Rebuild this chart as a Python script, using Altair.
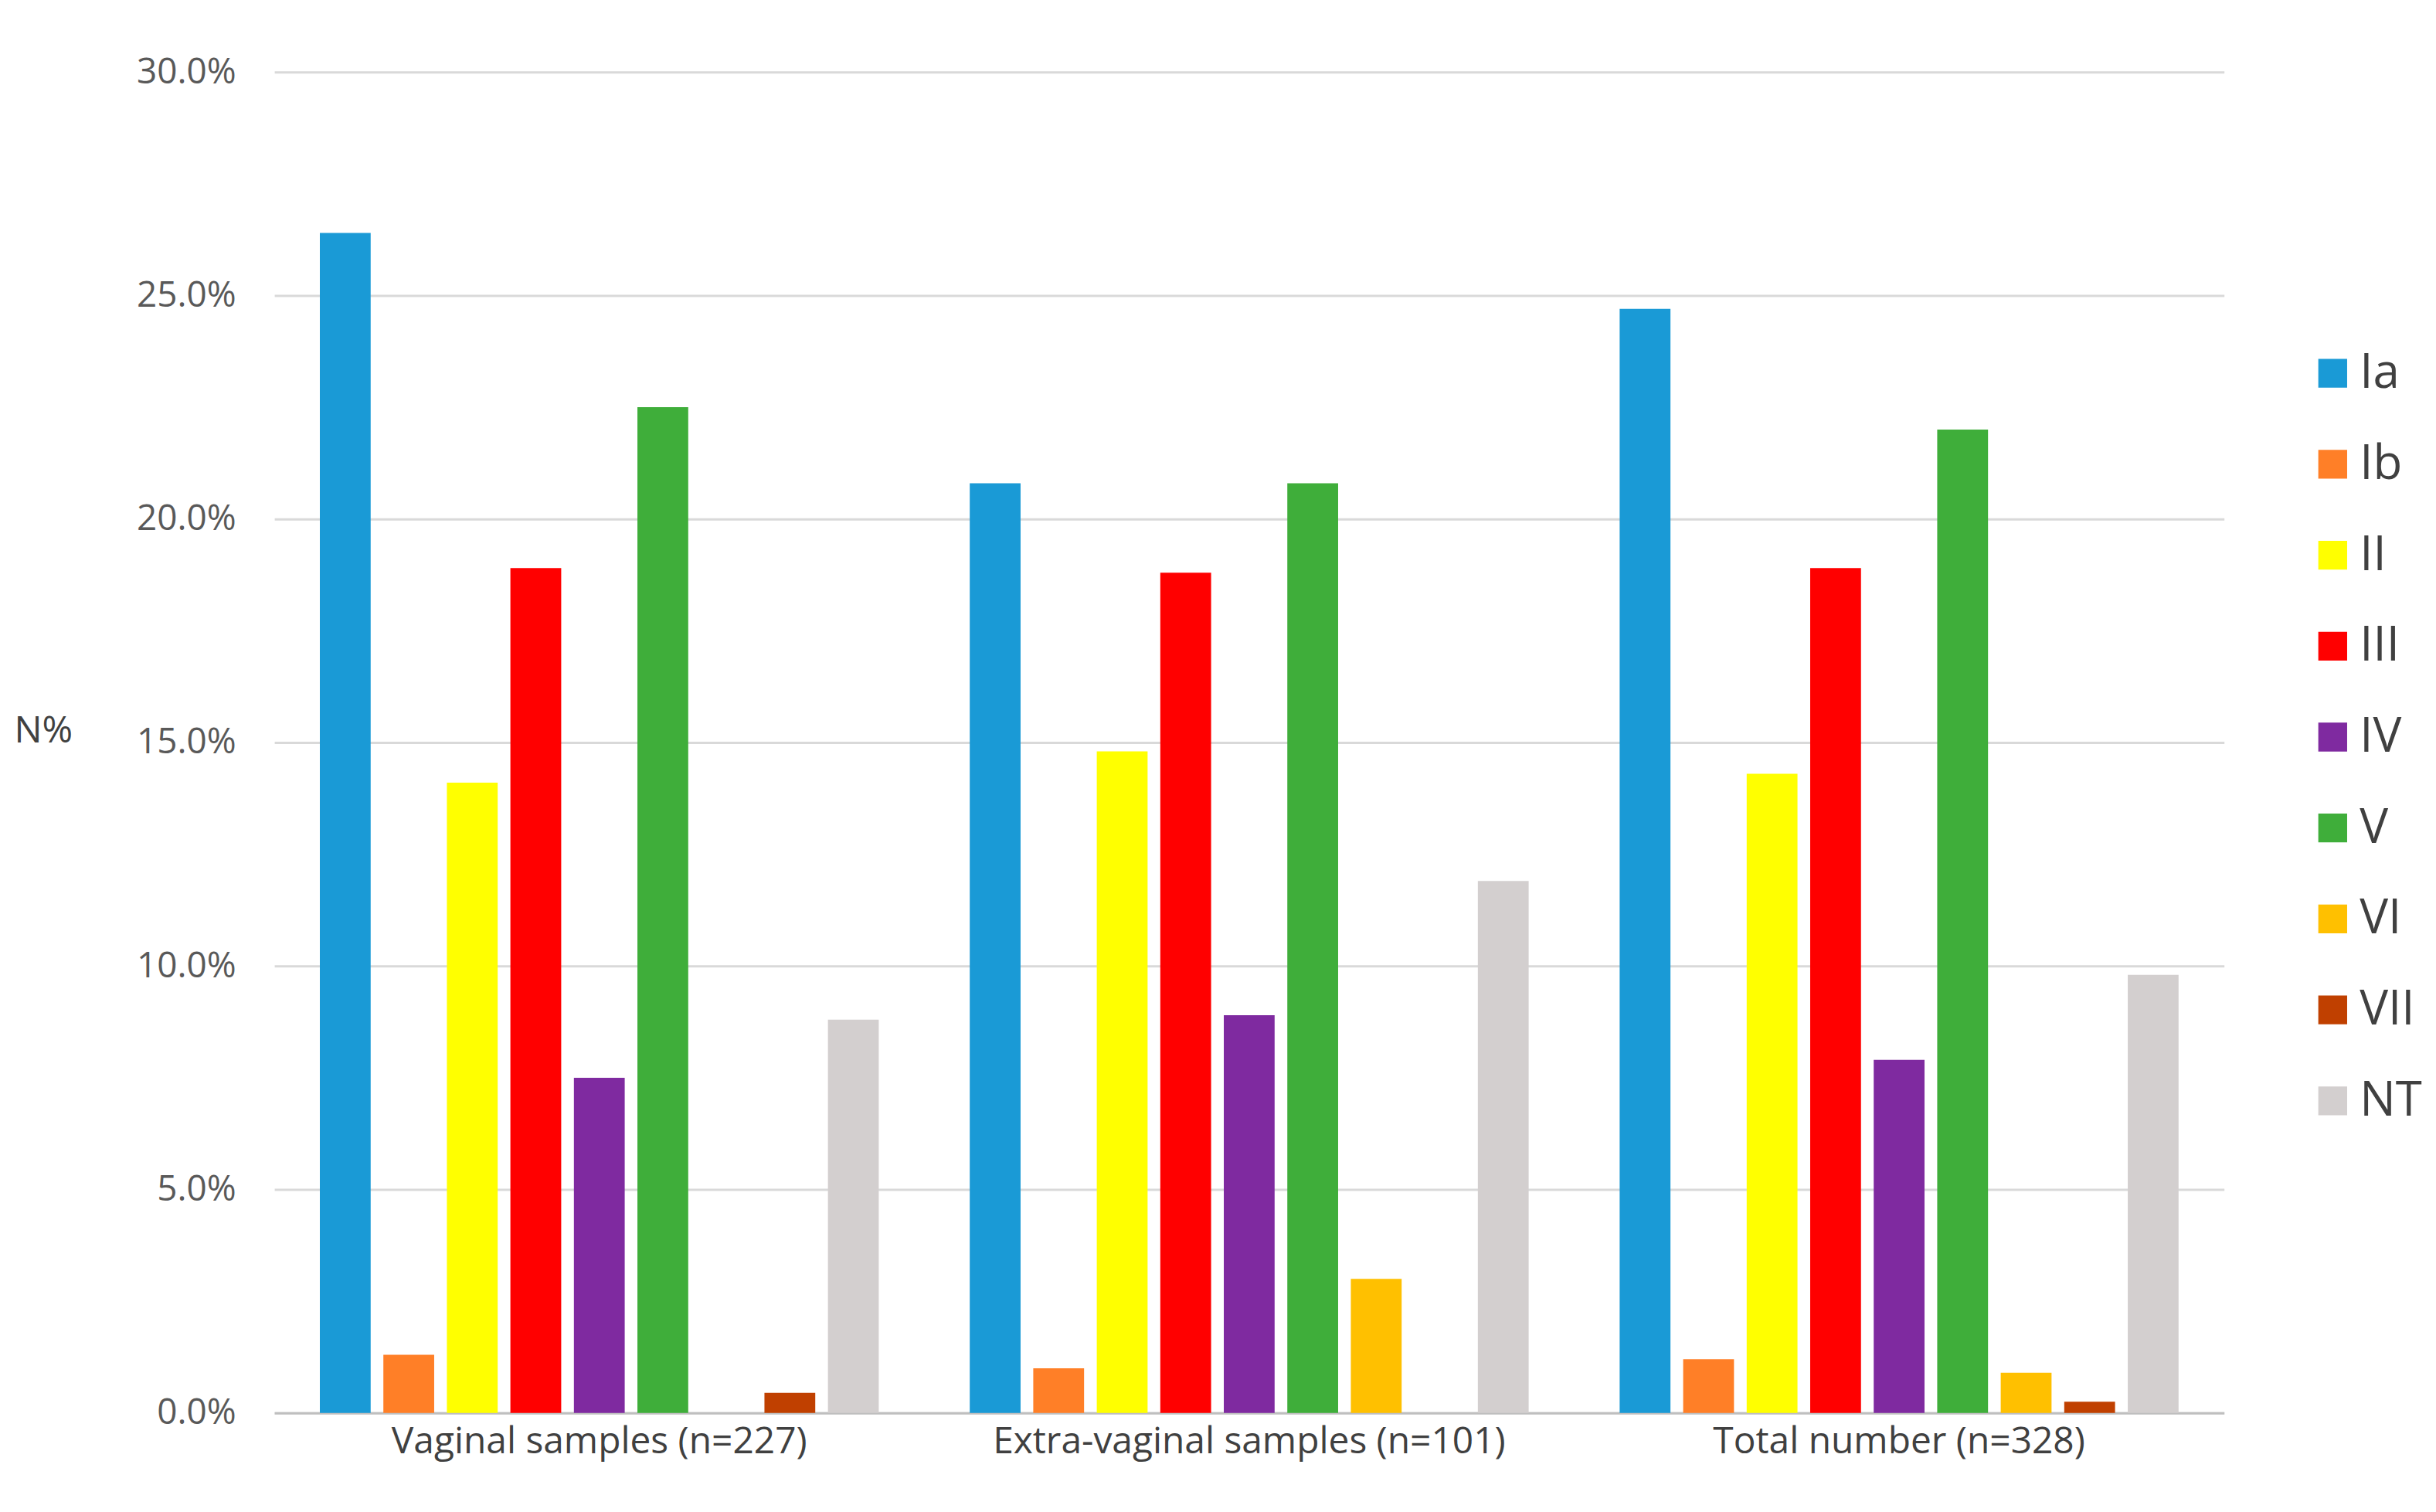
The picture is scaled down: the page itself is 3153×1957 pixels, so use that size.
import altair as alt
import pandas as pd

groups = ["Vaginal samples (n=227)", "Extra-vaginal samples (n=101)", "Total number (n=328)"]
serotypes = ["Ia", "Ib", "II", "III", "IV", "V", "VI", "VII", "NT"]
colors = ["#1A9AD6", "#FF7F27", "#FFFF00", "#FF0000", "#7F2AA0", "#3FAE3A", "#FFC000", "#C04000", "#D3CFCF"]

vaginal = [26.4, 1.3, 14.1, 18.9, 7.5, 22.5, 0.0, 0.45, 8.8]
extra = [20.8, 1.0, 14.8, 18.8, 8.9, 20.8, 3.0, 0.0, 11.9]
total = [24.7, 1.2, 14.3, 18.9, 7.9, 22.0, 0.9, 0.25, 9.8]

rows = []
for g, vals in zip(groups, [vaginal, extra, total]):
    for s, v in zip(serotypes, vals):
        rows.append({"group": g, "serotype": s, "value": v / 100})
df = pd.DataFrame(rows)

font = "Open Sans"

chart = (
    alt.Chart(df)
    .mark_bar()
    .encode(
        x=alt.X("group:N", sort=groups, title=None,
                scale=alt.Scale(paddingInner=0.14, paddingOuter=0.07),
                axis=alt.Axis(labelAngle=0, labelFontSize=48, labelColor="#404040",
                              labelPadding=14, labelLimit=1000, ticks=False,
                              domainColor="#BFBFBF", domainWidth=3)),
        xOffset=alt.XOffset("serotype:N", sort=serotypes,
                            scale=alt.Scale(paddingInner=0.2)),
        y=alt.Y("value:Q", title="N%",
                scale=alt.Scale(domain=[0, 0.3]),
                axis=alt.Axis(format=".1%", values=[0, 0.05, 0.1, 0.15, 0.2, 0.25, 0.3],
                              labelOverlap=False, labelFontSize=46, labelColor="#595959",
                              labelPadding=50,
                              titleAngle=0, titleFontSize=48, titleFontWeight="normal",
                              titleColor="#404040", titleX=-300, titleY=880,
                              ticks=False, domain=False, gridColor="#D9D9D9", gridWidth=3)),
        color=alt.Color("serotype:N", sort=serotypes,
                        scale=alt.Scale(domain=serotypes, range=colors),
                        legend=alt.Legend(title=None, labelFontSize=62, labelColor="#404040",
                                          symbolType="square", symbolSize=1400,
                                          symbolStrokeWidth=0, rowPadding=56,
                                          orient="none", legendX=2640, legendY=360)),
    )
    .properties(width=2530, height=1740, padding={"left": 10, "top": 60, "right": 10, "bottom": 10})
    .configure(font=font)
    .configure_view(stroke=None)
)

chart.save("out.html", embed_options={"renderer": "svg", "actions": False})
